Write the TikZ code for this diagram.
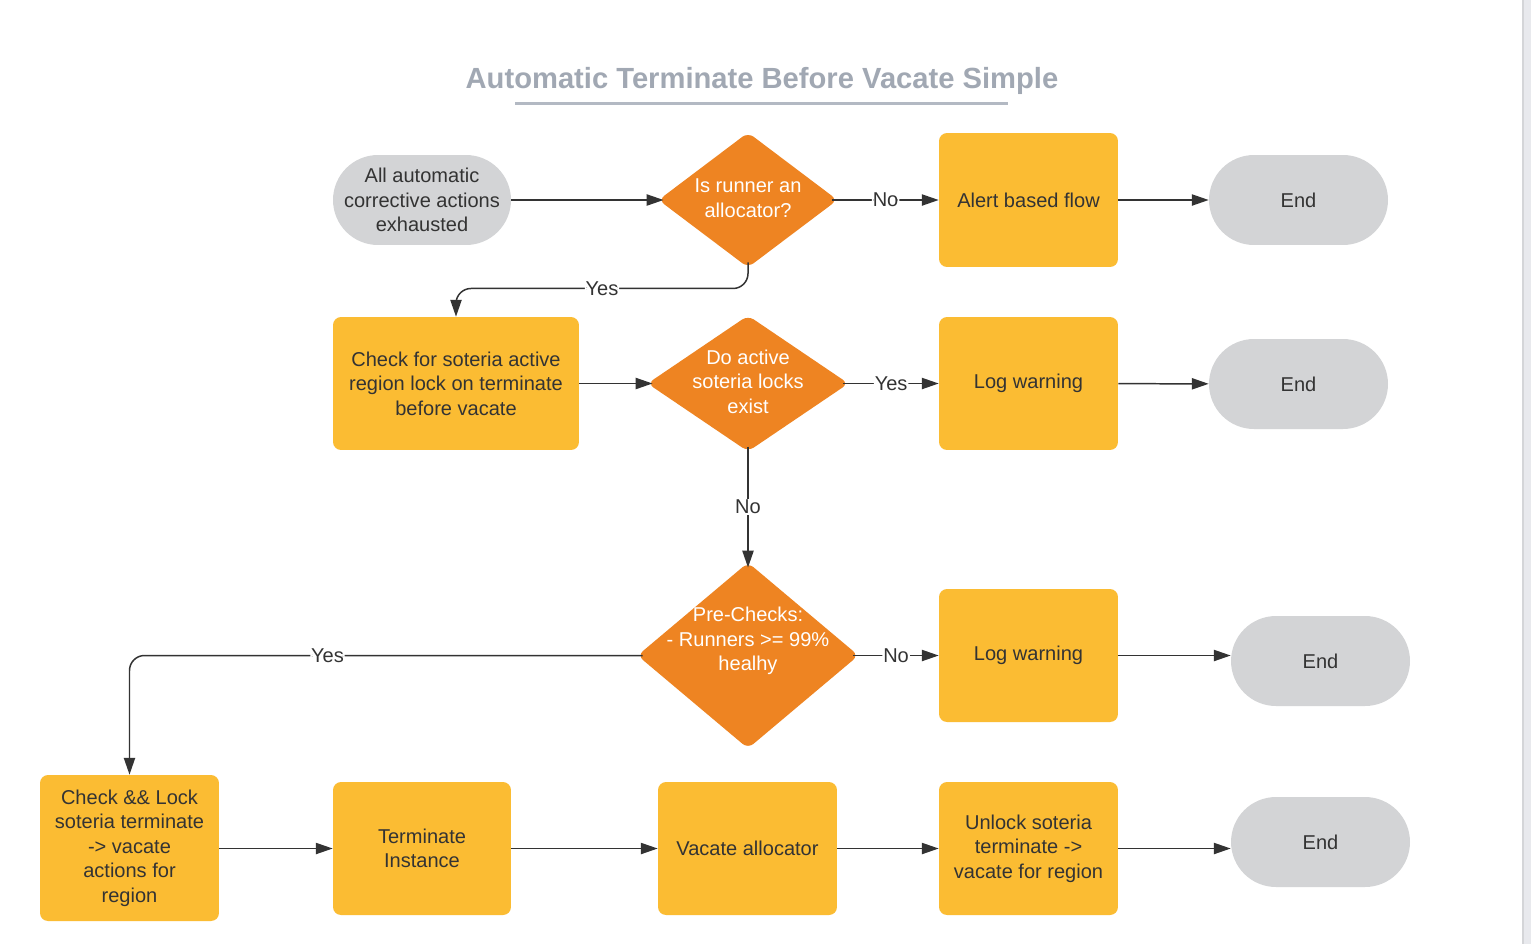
\documentclass[tikz,border=0pt]{standalone}
\usepackage{fontspec}
\setmainfont{Liberation Sans}
\usetikzlibrary{shapes.geometric,arrows.meta}

\definecolor{boxfill}{HTML}{FBBC33}
\definecolor{decfill}{HTML}{EE8422}
\definecolor{termfill}{HTML}{D3D4D6}
\definecolor{ink}{HTML}{333333}
\definecolor{titlegrey}{HTML}{A1A8B3}
\definecolor{rulegrey}{HTML}{B3B9C3}
\definecolor{bandgrey}{HTML}{E8E9ED}
\definecolor{bandedge}{HTML}{D4D5D8}

\newcommand\boxfont{\fontsize{11.4}{13.9}\selectfont}

\tikzset{
  proc/.style={fill=boxfill, rounded corners=0.16cm, align=center,
    text=ink, font=\boxfont, inner sep=2pt},
  decn/.style={diamond, fill=decfill, rounded corners=0.14cm, inner sep=0pt,
    outer sep=-0.07cm},
  dtext/.style={text=white, align=center, font=\boxfont},
  endn/.style={fill=termfill, rounded corners=0.9cm, minimum width=3.58cm,
    minimum height=1.8cm, text=ink, align=center, font=\boxfont},
  lbl/.style={fill=white, inner sep=0.5pt, text=ink, font=\boxfont},
  link/.style={draw=ink, line width=0.85pt, rounded corners=0.3cm,
    -{Triangle[length=9.6pt,width=6.4pt]}},
}

\begin{document}
\begin{tikzpicture}[x=0.02cm, y=-0.02cm]
  % canvas
  \fill[white] (0,0) rectangle (1531,944);
  \useasboundingbox (0,0) rectangle (1531,944);
  \fill[bandgrey] (1523,0) rectangle (1531,944);
  \draw[bandedge, line width=0.6pt] (1523,0) -- (1523,944);

  % title
  \node[text=titlegrey, font=\bfseries\fontsize{16.6}{20}\selectfont] (title) at (762,81)
    {Automatic Terminate Before Vacate Simple};
  \draw[rulegrey, line width=1.7pt] (515,103) -- (1008,103);

  % row 1
  \node[endn, minimum width=3.56cm] (start) at (422,200)
    {All automatic\\corrective actions\\exhausted};
  \node[decn, minimum width=3.52cm, minimum height=2.64cm] (d1) at (748,200) {};
  \node[dtext] at (748,198) {Is runner an\\allocator?};
  \node[proc, minimum width=3.58cm, minimum height=2.68cm] (alert) at (1028.5,200) {Alert based flow};
  \node[endn] (end1) at (1298.5,200) {End};

  % row 2
  \node[proc, minimum width=4.92cm, minimum height=2.66cm] (check) at (456,383.5)
    {Check for soteria active\\region lock on terminate\\before vacate};
  \node[decn, minimum width=3.96cm, minimum height=2.66cm] (d2) at (748,383.5) {};
  \node[dtext] at (748,381.5) {Do active\\soteria locks\\exist};
  \node[proc, minimum width=3.58cm, minimum height=2.66cm] (log1) at (1028.5,383.5) {Log warning};
  \node[endn] (end2) at (1298.5,384) {End};

  % row 3
  \node[decn, minimum width=4.36cm, minimum height=3.66cm] (d3) at (748,655.5) {};
  \node[dtext] at (748,641) {Pre-Checks:\\- Runners >= 99\%\\healhy};
  \node[proc, minimum width=3.58cm, minimum height=2.66cm] (log2) at (1028.5,655.5) {Log warning};
  \node[endn] (end3) at (1320.5,661) {End};

  % row 4
  \node[proc, minimum width=3.58cm, minimum height=2.92cm] (lock) at (129.5,848)
    {Check \&\& Lock\\soteria terminate\\-> vacate\\actions for\\region};
  \node[proc, minimum width=3.56cm, minimum height=2.66cm] (term) at (422,848.5) {Terminate\\Instance};
  \node[proc, minimum width=3.58cm, minimum height=2.66cm] (vacate) at (747.5,848.5) {Vacate allocator};
  \node[proc, minimum width=3.58cm, minimum height=2.66cm] (unlock) at (1028.5,848.5)
    {Unlock soteria\\terminate ->\\vacate for region};
  \node[endn] (end4) at (1320.5,842) {End};

  % connectors
  \draw[link] (start) -- (d1);
  \draw[link] (d1) -- node[lbl] {No} (alert);
  \draw[link] (alert) -- (end1);
  \draw[link] (d1.south) -- ++(0,26) -| node[lbl, pos=0.25] {Yes} (check.north);

  \draw[link] (check) -- (d2);
  \draw[link] (d2) -- node[lbl] {Yes} (log1);
  \draw[link] (log1) -- (end2);
  \draw[link] (d2) -- node[lbl] {No} (d3);

  \draw[link] (d3) -- node[lbl] {No} (log2);
  \draw[link] (log2.east) -- (log2.east -| end3.west);
  \draw[link] (d3.west) -| node[lbl, pos=0.307] {Yes} (lock.north);

  \draw[link] (lock.east |- term) -- (term);
  \draw[link] (term) -- (vacate);
  \draw[link] (vacate) -- (unlock);
  \draw[link] (unlock.east) -- (unlock.east -| end4.west);
\end{tikzpicture}
\end{document}
